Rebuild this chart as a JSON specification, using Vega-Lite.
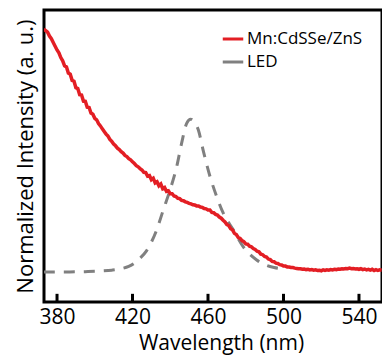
{
  "$schema": "https://vega.github.io/schema/vega-lite/v6.json",
  "autosize": "none",
  "width": 338,
  "height": 292,
  "padding": {"left": 44, "top": 10, "right": 0, "bottom": 54},
  "background": "white",
  "config": {
    "view": {"stroke": "#000000", "strokeWidth": 3},
    "font": "Open Sans",
    "axis": {"domain": false, "grid": false, "labelColor": "black", "titleColor": "black", "labelFont": "Open Sans", "titleFont": "Open Sans", "titleFontWeight": "normal"}
  },
  "datasets": {
    "ticks": [{"x": 380}, {"x": 420}, {"x": 460}, {"x": 500}, {"x": 540}],
    "led": [
      {"x": 373, "y": 0.103}, {"x": 385, "y": 0.103}, {"x": 395, "y": 0.104}, {"x": 403, "y": 0.106},
      {"x": 409, "y": 0.109}, {"x": 414, "y": 0.114}, {"x": 418, "y": 0.122}, {"x": 421, "y": 0.133},
      {"x": 424, "y": 0.150}, {"x": 427.5, "y": 0.176}, {"x": 430, "y": 0.205}, {"x": 432.8, "y": 0.247},
      {"x": 436.3, "y": 0.315}, {"x": 439.9, "y": 0.384}, {"x": 443.4, "y": 0.463}, {"x": 446, "y": 0.543},
      {"x": 448.7, "y": 0.612}, {"x": 450.8, "y": 0.626}, {"x": 452.3, "y": 0.620}, {"x": 454.9, "y": 0.589},
      {"x": 457.6, "y": 0.515}, {"x": 461.1, "y": 0.429}, {"x": 464.6, "y": 0.361}, {"x": 468.1, "y": 0.304},
      {"x": 473.4, "y": 0.247}, {"x": 478.7, "y": 0.189}, {"x": 485.8, "y": 0.144}, {"x": 490, "y": 0.128},
      {"x": 495, "y": 0.118}, {"x": 500, "y": 0.113}
    ],
    "pl": [
      {"x":373,"y":0.935},{"x":374,"y":0.929},{"x":375,"y":0.924},{"x":376,"y":0.911},{"x":377,"y":0.902},{"x":378,"y":0.889},{"x":379,"y":0.876},{"x":380,"y":0.863},
      {"x":381,"y":0.853},{"x":382,"y":0.837},{"x":383,"y":0.826},{"x":384,"y":0.809},{"x":385,"y":0.805},{"x":386,"y":0.784},{"x":387,"y":0.780},{"x":388,"y":0.759},
      {"x":389,"y":0.756},{"x":390,"y":0.734},{"x":391,"y":0.731},{"x":392,"y":0.710},{"x":393,"y":0.709},{"x":394,"y":0.688},{"x":395,"y":0.687},{"x":396,"y":0.667},
      {"x":397,"y":0.666},{"x":398,"y":0.647},{"x":399,"y":0.643},{"x":400,"y":0.629},{"x":401,"y":0.624},{"x":402,"y":0.611},{"x":403,"y":0.603},{"x":404,"y":0.593},
      {"x":405,"y":0.584},{"x":406,"y":0.575},{"x":407,"y":0.568},{"x":408,"y":0.557},{"x":409,"y":0.550},{"x":410,"y":0.541},{"x":411,"y":0.535},{"x":412,"y":0.527},
      {"x":413,"y":0.522},{"x":414,"y":0.515},{"x":415,"y":0.510},{"x":416,"y":0.502},{"x":417,"y":0.498},{"x":418,"y":0.491},{"x":419,"y":0.487},{"x":420,"y":0.480},
      {"x":421,"y":0.474},{"x":422,"y":0.467},{"x":423,"y":0.463},{"x":424,"y":0.457},{"x":425,"y":0.452},{"x":426,"y":0.444},{"x":427,"y":0.443},{"x":428,"y":0.431},
      {"x":429,"y":0.433},{"x":430,"y":0.419},{"x":431,"y":0.424},{"x":432,"y":0.408},{"x":433,"y":0.412},{"x":434,"y":0.398},{"x":435,"y":0.404},{"x":436,"y":0.388},
      {"x":437,"y":0.392},{"x":438,"y":0.379},{"x":439,"y":0.381},{"x":440,"y":0.371},{"x":441,"y":0.371},{"x":442,"y":0.363},{"x":443,"y":0.361},{"x":444,"y":0.355},
      {"x":445,"y":0.354},{"x":446,"y":0.348},{"x":447,"y":0.347},{"x":448,"y":0.343},{"x":449,"y":0.341},{"x":450,"y":0.338},{"x":451,"y":0.336},{"x":452,"y":0.333},
      {"x":453,"y":0.332},{"x":454,"y":0.329},{"x":455,"y":0.329},{"x":456,"y":0.325},{"x":457,"y":0.324},{"x":458,"y":0.320},{"x":459,"y":0.319},{"x":460,"y":0.315},
      {"x":461,"y":0.315},{"x":462,"y":0.307},{"x":463,"y":0.306},{"x":464,"y":0.300},{"x":465,"y":0.298},{"x":466,"y":0.291},{"x":467,"y":0.287},{"x":468,"y":0.280},
      {"x":469,"y":0.274},{"x":470,"y":0.265},{"x":471,"y":0.262},{"x":472,"y":0.251},{"x":473,"y":0.247},{"x":474,"y":0.235},{"x":475,"y":0.231},{"x":476,"y":0.221},
      {"x":477,"y":0.218},{"x":478,"y":0.210},{"x":479,"y":0.207},{"x":480,"y":0.199},{"x":481,"y":0.198},{"x":482,"y":0.191},{"x":483,"y":0.189},{"x":484,"y":0.183},
      {"x":485,"y":0.180},{"x":486,"y":0.174},{"x":487,"y":0.172},{"x":488,"y":0.164},{"x":489,"y":0.162},{"x":490,"y":0.156},{"x":491,"y":0.154},{"x":492,"y":0.147},
      {"x":493,"y":0.145},{"x":494,"y":0.139},{"x":495,"y":0.138},{"x":496,"y":0.133},{"x":497,"y":0.132},{"x":498,"y":0.128},{"x":499,"y":0.127},{"x":500,"y":0.123},
      {"x":501,"y":0.123},{"x":502,"y":0.120},{"x":503,"y":0.120},{"x":504,"y":0.118},{"x":505,"y":0.118},{"x":506,"y":0.116},{"x":507,"y":0.115},{"x":508,"y":0.114},
      {"x":509,"y":0.114},{"x":510,"y":0.112},{"x":511,"y":0.113},{"x":512,"y":0.111},{"x":513,"y":0.112},{"x":514,"y":0.110},{"x":515,"y":0.111},{"x":516,"y":0.109},
      {"x":517,"y":0.110},{"x":518,"y":0.108},{"x":519,"y":0.109},{"x":520,"y":0.107},{"x":521,"y":0.110},{"x":522,"y":0.108},{"x":523,"y":0.110},{"x":524,"y":0.109},
      {"x":525,"y":0.111},{"x":526,"y":0.110},{"x":527,"y":0.112},{"x":528,"y":0.111},{"x":529,"y":0.113},{"x":530,"y":0.112},{"x":531,"y":0.114},{"x":532,"y":0.113},
      {"x":533,"y":0.115},{"x":534,"y":0.114},{"x":535,"y":0.116},{"x":536,"y":0.114},{"x":537,"y":0.115},{"x":538,"y":0.113},{"x":539,"y":0.114},{"x":540,"y":0.112},
      {"x":541,"y":0.114},{"x":542,"y":0.111},{"x":543,"y":0.113},{"x":544,"y":0.110},{"x":545,"y":0.112},{"x":546,"y":0.109},{"x":547,"y":0.112},{"x":548,"y":0.108},
      {"x":549,"y":0.111},{"x":550,"y":0.108},{"x":551,"y":0.110},{"x":552,"y":0.109}
    ]
  },
  "layer": [
    {
      "data": {"name": "led"},
      "mark": {"type": "line", "strokeWidth": 3, "strokeDash": [11, 9], "interpolate": "monotone", "clip": true},
      "encoding": {
        "x": {"field": "x", "type": "quantitative", "scale": {"domain": [373.1, 552.2], "nice": false, "zero": false},
          "axis": {"orient": "bottom", "domain": false, "values": [380, 420, 460, 500, 540], "title": "Wavelength (nm)", "titleFontSize": 21, "labelFontSize": 21, "ticks": false, "labelPadding": 4, "titleBaseline": "alphabetic", "titleY": 47, "titleX": 177, "labelFlush": false}},
        "y": {"field": "y", "type": "quantitative", "scale": {"domain": [0, 1], "nice": false, "zero": false},
          "axis": {"domain": false, "title": "Normalized Intensity (a. u.)", "titleFontSize": 22, "labels": false, "ticks": false, "titlePadding": 7}},
        "color": {"datum": "LED", "type": "nominal", "scale": {"domain": ["Mn:CdSSe/ZnS", "LED"], "range": ["#e31e24", "#808080"]},
          "legend": {"title": null, "orient": "none", "legendX": 177, "legendY": 17, "symbolType": "stroke", "symbolSize": 420, "symbolStrokeWidth": 3, "symbolDash": [], "labelFontSize": 17, "labelFont": "Open Sans", "labelColor": "black", "labelOffset": 2, "rowPadding": 3}}
      }
    },
    {
      "data": {"name": "pl"},
      "mark": {"type": "line", "strokeWidth": 3.5, "clip": true},
      "encoding": {
        "x": {"field": "x", "type": "quantitative"},
        "y": {"field": "y", "type": "quantitative"},
        "color": {"datum": "Mn:CdSSe/ZnS", "type": "nominal"}
      }
    },
    {
      "data": {"name": "ticks"},
      "mark": {"type": "rule", "stroke": "#000000", "strokeWidth": 3, "opacity": 1},
      "encoding": {
        "x": {"field": "x", "type": "quantitative"},
        "y": {"datum": 0},
        "y2": {"datum": 0.028}
      }
    }
  ]
}
